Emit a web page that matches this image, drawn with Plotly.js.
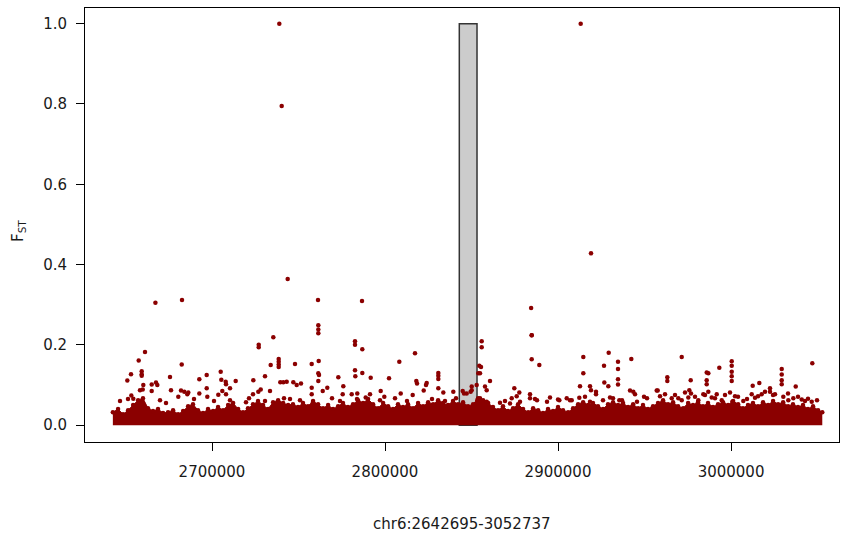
<!DOCTYPE html>
<html>
<head>
<meta charset="utf-8">
<script src="https://cdn.plot.ly/plotly-3.0.1.min.js"></script>
<style>html,body{margin:0;padding:0;background:#fff;}#chart{width:841px;height:541px;}</style>
</head>
<body>
<div id="chart"></div>
<script>
// Region label and ticks
const regionLabel = "chr6:2642695-3052737";
const xTickVals = [2700000, 2800000, 2900000, 3000000];
const xTickText = ["2700000", "2800000", "2900000", "3000000"];
const yTickVals = [0, 0.2, 0.4, 0.6, 0.8, 1.0];
const yTickText = ["0.0", "0.2", "0.4", "0.6", "0.8", "1.0"];

// Highlighted gene window (grey bar)
const geneStart = 2842940;
const geneEnd = 2853170;
const geneFst = 1.0;

// Upper envelope of the dense low-FST cloud
const envX = [2642695,2645700,2648600,2651500,2654400,2657300,2660100,2663000,2665900,2668800,2671700,2674600,2677500,2680400,2683300,2686200,2689000,2691900,2694800,2697700,
2700600,2703500,2706400,2709300,2712200,2715100,2717900,2720800,2723700,2726600,2729500,2732400,2735300,2738200,2741100,2744000,2746800,2749700,2752600,2755500,
2758400,2761300,2764200,2767100,2770000,2772900,2775700,2778600,2781500,2784400,2787300,2790200,2793100,2796000,2798900,2801800,2804600,2807500,2810400,2813300,
2816200,2819100,2822000,2824900,2827800,2830700,2833500,2836400,2839300,2842200,2845100,2848000,2850900,2853800,2856700,2859600,2862400,2865300,2868200,2871100,
2874000,2876900,2879800,2882700,2885600,2888500,2891300,2894200,2897100,2900000,2902900,2905800,2908700,2911600,2914500,2917400,2920200,2923100,2926000,2928900,
2931800,2934700,2937600,2940500,2943400,2946300,2949100,2952000,2954900,2957800,2960700,2963600,2966500,2969400,2972300,2975200,2978000,2980900,2983800,2986700,
2989600,2992500,2995400,2998300,3001200,3004100,3006900,3009800,3012700,3015600,3018500,3021400,3024300,3027200,3030100,3033000,3035800,3038700,3041600,3044500,
3047400,3050300,3052737];
const envY = [0.032,0.040,0.027,0.037,0.050,0.062,0.067,0.042,0.035,0.040,0.030,0.032,0.037,0.027,0.035,0.047,0.052,0.037,0.030,0.040,
0.035,0.045,0.037,0.050,0.055,0.040,0.032,0.042,0.052,0.060,0.050,0.040,0.057,0.062,0.055,0.050,
0.052,0.045,0.055,0.047,0.060,0.052,0.042,0.050,0.040,0.047,0.055,0.045,0.052,0.062,0.055,0.065,0.052,0.042,0.055,0.047,0.040,0.052,0.045,0.052,0.042,0.055,0.047,0.057,0.052,0.062,0.055,0.050,0.060,0.052,
0.057,0.047,0.052,0.067,
0.062,0.055,0.045,0.037,0.047,0.035,0.042,0.052,0.040,0.032,0.042,0.037,0.030,0.040,0.035,0.045,0.037,0.032,0.042,0.052,0.057,0.050,0.055,0.047,0.040,0.052,0.057,0.050,0.055,0.045,0.052,0.042,0.050,0.040,0.047,0.055,
0.062,0.052,0.057,0.047,0.042,0.055,0.050,0.057,0.047,0.055,0.045,0.052,0.057,0.050,0.060,0.052,0.042,0.050,0.055,0.047,0.057,0.050,0.060,0.052,0.057,0.047,0.052,0.045,0.050,0.040,0.047,0.037,0.032];

// Individual SNP positions and FST values above the dense cloud
const snpPos = [
2738900,2740290,2913100,2919060,2743755,2667285,2682660,2761270,2761450,2761450,2761450,2786700,2884440,2884780,2735430,
2727000,2727000,2661270,2657630,2682490,2738550,2738550,2738550,2738550,2733930,2659370,2659370,2659370,2653180,2651050,
2675720,2696940,2692660,2705030,2705380,2707920,2708090,2713700,2723870,2730630,2741210,2739480,2665150,2667630,2668380,
2660290,2676300,2682080,2683990,2686300,2659950,2658380,2665150,2692660,2696940,2697280,2703640,2705950,2708090,2710400,
2653360,2654510,2680520,2685720,2723700,2726760,2728150,2733520,
2782650,2782650,2786870,2817330,2808260,2747970,2757630,2761670,2782650,2782830,2786870,2761440,2761850,2761440,2773000,2775890,
2791730,2802310,2830800,2830800,2830800,2818090,2818490,2824100,2823700,2746990,2748960,2751440,2757630,2757630,2763990,2766640,
2775540,2780750,2783980,2788840,2791320,2797510,2799590,2809070,2816000,2822360,2830800,2833690,2839470,2745080,2743180,
2845660,2850110,2850110,2849500,2847200,2844900,
2884780,2884780,2889180,2855880,2855880,2854500,2855480,2853920,2854900,2860680,2914620,2914620,2929290,2926580,
2934670,2934670,2934670,2934670,2942360,2926750,2929060,2912700,2918480,2919060,2921950,2921950,2874730,2877620,2876110,2873230,
2883800,2883800,2886690,2895360,2900740,2905020,2907910,2912300,2915590,2930040,2935420,2941600,2943510,2944490,2949700,2957040,
2853000,2857790,2858770,2853340,2854900,2858770,2866460,
2971490,3000390,3000390,3000390,3000390,3000390,2993220,2985930,2986860,2976690,2963170,2963170,2985930,2985930,3046970,
3029290,3029290,3029290,3029290,3016340,3012520,3037380,2957610,2958940,2975880,2976860,2975300,2971490,2981080,2983970,
2986860,2988830,2991720,2994610,2999400,3002290,3000730,3007080,3011940,3013850,3017720,3022520,3022520,3025410,3030210,
3033100,3035990,3040850,3042750,3046630,2961830,2965710,2969530,
2646820,2651450,2669940,2673410,2689600,2701160,2710400,2719650,2721390,2730630,2741620,
2750860,2758380,2769360,2773980,2783810,2797100,2805770,2812710,2827160,2834670,2841030,
2869350,2872240,2878020,2887850,2893630,2899990,2906920,2918480,2925990,2931780,2936980,2945650,2951430,
2967610,2973390,2979170,2984950,2990730,2996510,3004030,3009230,3015590,3019630,3024260,3032930,3038710,3044490,3049690];
const snpFst = [
1.000,0.795,1.000,0.428,0.364,0.305,0.312,0.312,0.249,0.238,0.229,0.309,0.292,0.224,0.219,
0.200,0.194,0.182,0.161,0.151,0.165,0.158,0.151,0.145,0.150,0.134,0.127,0.123,0.127,0.111,
0.120,0.125,0.114,0.133,0.113,0.108,0.102,0.110,0.112,0.122,0.107,0.107,0.101,0.106,0.100,
0.100,0.087,0.086,0.083,0.081,0.089,0.087,0.085,0.079,0.092,0.071,0.076,0.085,0.077,0.092,
0.074,0.066,0.071,0.077,0.077,0.083,0.089,0.085,
0.209,0.200,0.189,0.179,0.158,0.152,0.152,0.160,0.137,0.122,0.130,0.129,0.125,0.110,0.119,0.097,
0.118,0.117,0.130,0.123,0.115,0.110,0.104,0.105,0.100,0.107,0.100,0.104,0.093,0.077,0.085,0.093,
0.077,0.077,0.079,0.069,0.077,0.085,0.071,0.079,0.075,0.086,0.092,0.081,0.083,0.065,0.108,
0.079,0.096,0.087,0.083,0.079,0.085,
0.224,0.164,0.150,0.209,0.194,0.148,0.145,0.129,0.129,0.110,0.170,0.129,0.180,0.148,
0.158,0.140,0.114,0.101,0.165,0.106,0.097,0.097,0.097,0.087,0.083,0.077,0.092,0.081,0.072,0.067,
0.077,0.067,0.065,0.069,0.062,0.067,0.062,0.068,0.071,0.069,0.062,0.086,0.083,0.077,0.071,0.086,
0.100,0.096,0.087,0.062,0.067,0.058,0.056,
0.170,0.159,0.148,0.133,0.122,0.110,0.143,0.131,0.129,0.112,0.119,0.110,0.112,0.102,0.154,
0.140,0.126,0.112,0.102,0.105,0.098,0.096,0.086,0.072,0.087,0.079,0.069,0.062,0.062,0.077,
0.083,0.069,0.077,0.062,0.081,0.072,0.058,0.060,0.077,0.068,0.077,0.092,0.083,0.077,0.071,
0.062,0.067,0.064,0.060,0.058,0.077,0.067,0.067,
0.060,0.065,0.062,0.055,0.065,0.060,0.062,0.057,0.067,0.060,0.067,
0.062,0.057,0.067,0.060,0.065,0.062,0.067,0.060,0.065,0.060,0.067,
0.060,0.054,0.058,0.062,0.058,0.064,0.062,0.058,0.062,0.067,0.062,0.058,0.067,
0.075,0.081,0.071,0.075,0.067,0.075,0.071,0.065,0.072,0.083,0.075,0.079,0.071,0.066,0.062];

const red = "#8B0000";
const txt = "#1a1a1a";
const font = {family: "DejaVu Sans, sans-serif", size: 15, color: txt};

const traces = [
  {x: envX, y: envY, type: "scatter", mode: "lines+markers", fill: "tozeroy",
   fillcolor: red, line: {color: red, width: 1}, marker: {color: red, size: 4.5},
   hoverinfo: "skip", showlegend: false},
  {x: snpPos, y: snpFst, type: "scatter", mode: "markers",
   marker: {color: red, size: 4.5, line: {width: 0}}, showlegend: false}
];

const layout = {
  width: 841, height: 541,
  margin: {l: 85, r: 2, t: 8, b: 99},
  paper_bgcolor: "#fff", plot_bgcolor: "#fff",
  font: font,
  showlegend: false,
  xaxis: {range: [2626590, 3062400], showgrid: false, zeroline: false,
          showline: true, linecolor: "#000", linewidth: 1, mirror: true,
          ticks: "outside", ticklen: 8, tickcolor: "#000", tickwidth: 1,
          tickvals: xTickVals, ticktext: xTickText, ticklabelstandoff: 8,
          tickfont: font},
  yaxis: {range: [-0.042, 1.039], showgrid: false, zeroline: false,
          showline: true, linecolor: "#000", linewidth: 1, mirror: true,
          ticks: "outside", ticklen: 8, tickcolor: "#000", tickwidth: 1,
          tickvals: yTickVals, ticktext: yTickText, ticklabelstandoff: 6,
          tickfont: font},
  shapes: [{type: "rect", xref: "x", yref: "y", x0: geneStart, x1: geneEnd, y0: 0, y1: geneFst,
            fillcolor: "#cccccc", line: {color: "#333", width: 1.5}, layer: "below"}],
  annotations: [
    {text: regionLabel, xref: "paper", yref: "paper", x: 0.5, y: -0.189,
     xanchor: "center", yanchor: "middle", showarrow: false, font: font},
    {text: "F<sub>ST</sub>", xref: "paper", yref: "paper", x: -0.089, y: 0.486,
     xanchor: "center", yanchor: "middle", textangle: -90, showarrow: false, font: font}
  ]
};

Plotly.newPlot("chart", traces, layout, {staticPlot: true, displayModeBar: false});
</script>
</body>
</html>
